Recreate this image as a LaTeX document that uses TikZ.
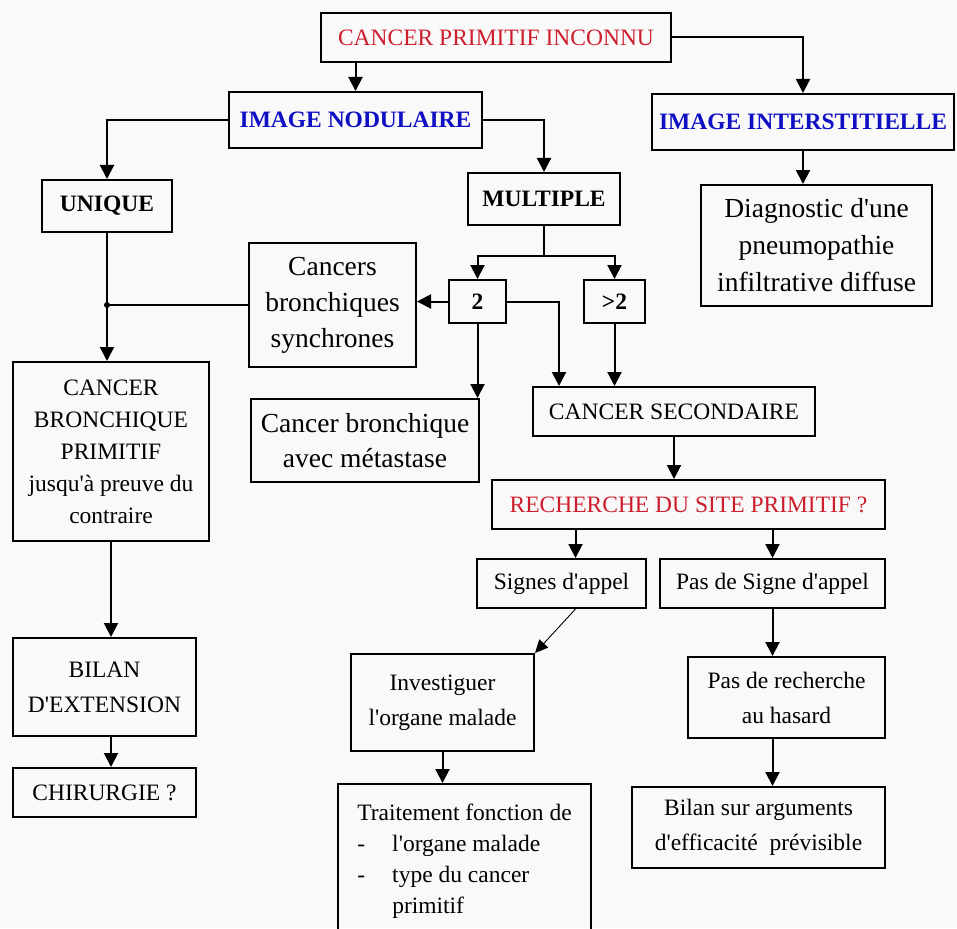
\documentclass[tikz,border=0pt]{standalone}
\usepackage{fontspec}
\setmainfont{Liberation Serif}
\usetikzlibrary{arrows.meta}
\definecolor{titrerouge}{RGB}{205,30,45}
\definecolor{titrebleu}{RGB}{15,15,195}
\definecolor{fond}{RGB}{249,249,249}
\newcommand{\apos}{\textquotesingle}
\tikzset{
  flowbox/.style={draw, line width=2pt, inner sep=0pt, align=center,
    font=\fontsize{23.5}{35}\selectfont},
  bigbox/.style={flowbox, font=\fontsize{27.5}{37}\selectfont},
  boldbox/.style={flowbox, font=\fontsize{23.5}{32}\selectfont\bfseries},
  trait/.style={line width=2pt},
  arr/.style={trait, -{Triangle[width=14pt,length=14pt]}},
  thinarr/.style={line width=0.9pt, -{Triangle[width=12pt,length=13pt]}},
}

\begin{document}
\begin{tikzpicture}[x=1pt, y=-1pt]
        \useasboundingbox (0,0) rectangle (957,928);
        \clip (0,0) rectangle (957,928);
        \fill[fond] (0,0) rectangle (957,928);

        % top
        \node[flowbox, text=titrerouge, minimum width=350pt, minimum height=49pt] (inconnu) at (496,37.5) {CANCER PRIMITIF INCONNU};
        \node[boldbox, text=titrebleu, minimum width=253pt, minimum height=56pt] (nodul) at (355.5,120) {IMAGE NODULAIRE};
        \node[boldbox, text=titrebleu, minimum width=302pt, minimum height=56pt] (interst) at (803,122) {IMAGE INTERSTITIELLE};
        \node[boldbox, minimum width=130pt, minimum height=52pt] (unique) at (107,206) {UNIQUE};
        \node[boldbox, minimum width=152pt, minimum height=52pt] (multiple) at (544,199) {MULTIPLE};
        \node[bigbox, minimum width=231pt, minimum height=121pt] (diag) at (816.5,245.5) {Diagnostic d\apos une\\pneumopathie\\infiltrative diffuse};

        % middle
        \node[boldbox, minimum width=57pt, minimum height=43pt] (deux) at (477.5,301.5) {2};
        \node[boldbox, minimum width=61pt, minimum height=43pt] (plus) at (614.5,301.5) {>2};
        \node[bigbox, font=\fontsize{27.5}{36}\selectfont, minimum width=167pt, minimum height=124pt] (synchr) at (332.5,305) {Cancers\\bronchiques\\synchrones};
        \node[flowbox, font=\fontsize{23.5}{32}\selectfont, minimum width=196pt, minimum height=179pt] (cbp) at (111,451.5) {CANCER\\BRONCHIQUE\\PRIMITIF\\jusqu\apos à preuve du\\contraire};
        \node[bigbox, font=\fontsize{27.5}{35}\selectfont, minimum width=228pt, minimum height=83pt] (metast) at (365,440.5) {Cancer bronchique\\avec métastase};
        \node[flowbox, minimum width=282pt, minimum height=49pt] (second) at (674,411.5) {CANCER SECONDAIRE};
        \node[flowbox, text=titrerouge, minimum width=393pt, minimum height=49pt] (recherche) at (688.5,504.5) {RECHERCHE DU SITE PRIMITIF ?};

        % bottom
        \node[flowbox, minimum width=169pt, minimum height=49pt] (signes) at (561.5,583.5) {Signes d\apos appel};
        \node[flowbox, minimum width=225pt, minimum height=49pt] (passigne) at (772.5,583.5) {Pas de Signe d\apos appel};
        \node[flowbox, minimum width=183pt, minimum height=97pt] (invest) at (442.5,702.5) {Investiguer\\l\apos organe malade};
        \node[flowbox, align=left, anchor=north west, inner ysep=20pt, minimum width=253pt, font=\fontsize{23.5}{31}\selectfont] (traite) at (337,783)
            {Traitement fonction de\\ \makebox[35pt][l]{-}l\apos organe malade\\ \makebox[35pt][l]{-}type du cancer\\ \hspace*{35pt}primitif\\ ~};
        \node[flowbox, minimum width=197pt, minimum height=81pt] (hasard) at (786.5,697.5) {Pas de recherche\\au hasard};
        \node[flowbox, minimum width=253pt, minimum height=81pt] (bilanarg) at (758.5,827.5) {Bilan sur arguments\\d\apos efficacité~~prévisible};
        \node[flowbox, minimum width=183pt, minimum height=98pt] (bilan) at (104.5,687) {BILAN\\D\apos EXTENSION};
        \node[flowbox, minimum width=183pt, minimum height=49pt] (chir) at (104.5,792.5) {CHIRURGIE ?};

        % arrows
        \draw[arr] (nodul.north |- inconnu.south) -- (nodul.north);
        \draw[arr] (inconnu.east) -| (interst.north);
        \draw[arr] (nodul.west) -| (unique.north);
        \draw[arr] (nodul.east) -| (multiple.north);
        \draw[arr] (interst.south) -- (interst.south |- diag.north);

        \coordinate (fourche) at ([yshift=-30pt]multiple.south);
        \draw[trait] (multiple.south) -- (fourche);
        \draw[arr] (fourche) -| (deux.north);
        \draw[arr] (fourche) -| (plus.north);
        \draw[arr] (deux.west) -- (deux.west -| synchr.east);
        \coordinate (versecond) at ([xshift=-115pt]second.north);
        \draw[arr] (deux.east) -| (versecond);
        \draw[arr] (deux.south) -- (deux.south |- metast.north);
        \draw[arr] (plus.south) -- (plus.south |- second.north);
        \draw[arr] (second.south) -- (second.south |- recherche.north);

        \coordinate (versignes) at ([xshift=14pt]signes.north);
        \draw[arr] (versignes |- recherche.south) -- (versignes);
        \draw[arr] (passigne.north |- recherche.south) -- (passigne.north);
        \draw[arr] (passigne.south) -- (passigne.south |- hasard.north);
        \draw[arr] (passigne.south |- hasard.south) -- (passigne.south |- bilanarg.north);
        \draw[thinarr] ([xshift=14pt]signes.south) -- (invest.north east);
        \draw[arr] (invest.south) -- (invest.south |- traite.north);

        % left column
        \draw[arr] (unique.south) -- (unique.south |- cbp.north);
        \coordinate (jonction) at (synchr.west -| unique.south);
        \draw[trait] (synchr.west) -- (jonction);
        \fill (jonction) circle (3pt);
        \draw[arr] (cbp.south) -- (cbp.south |- bilan.north);
        \draw[arr] (cbp.south |- bilan.south) -- (cbp.south |- chir.north);
\end{tikzpicture}
\end{document}
